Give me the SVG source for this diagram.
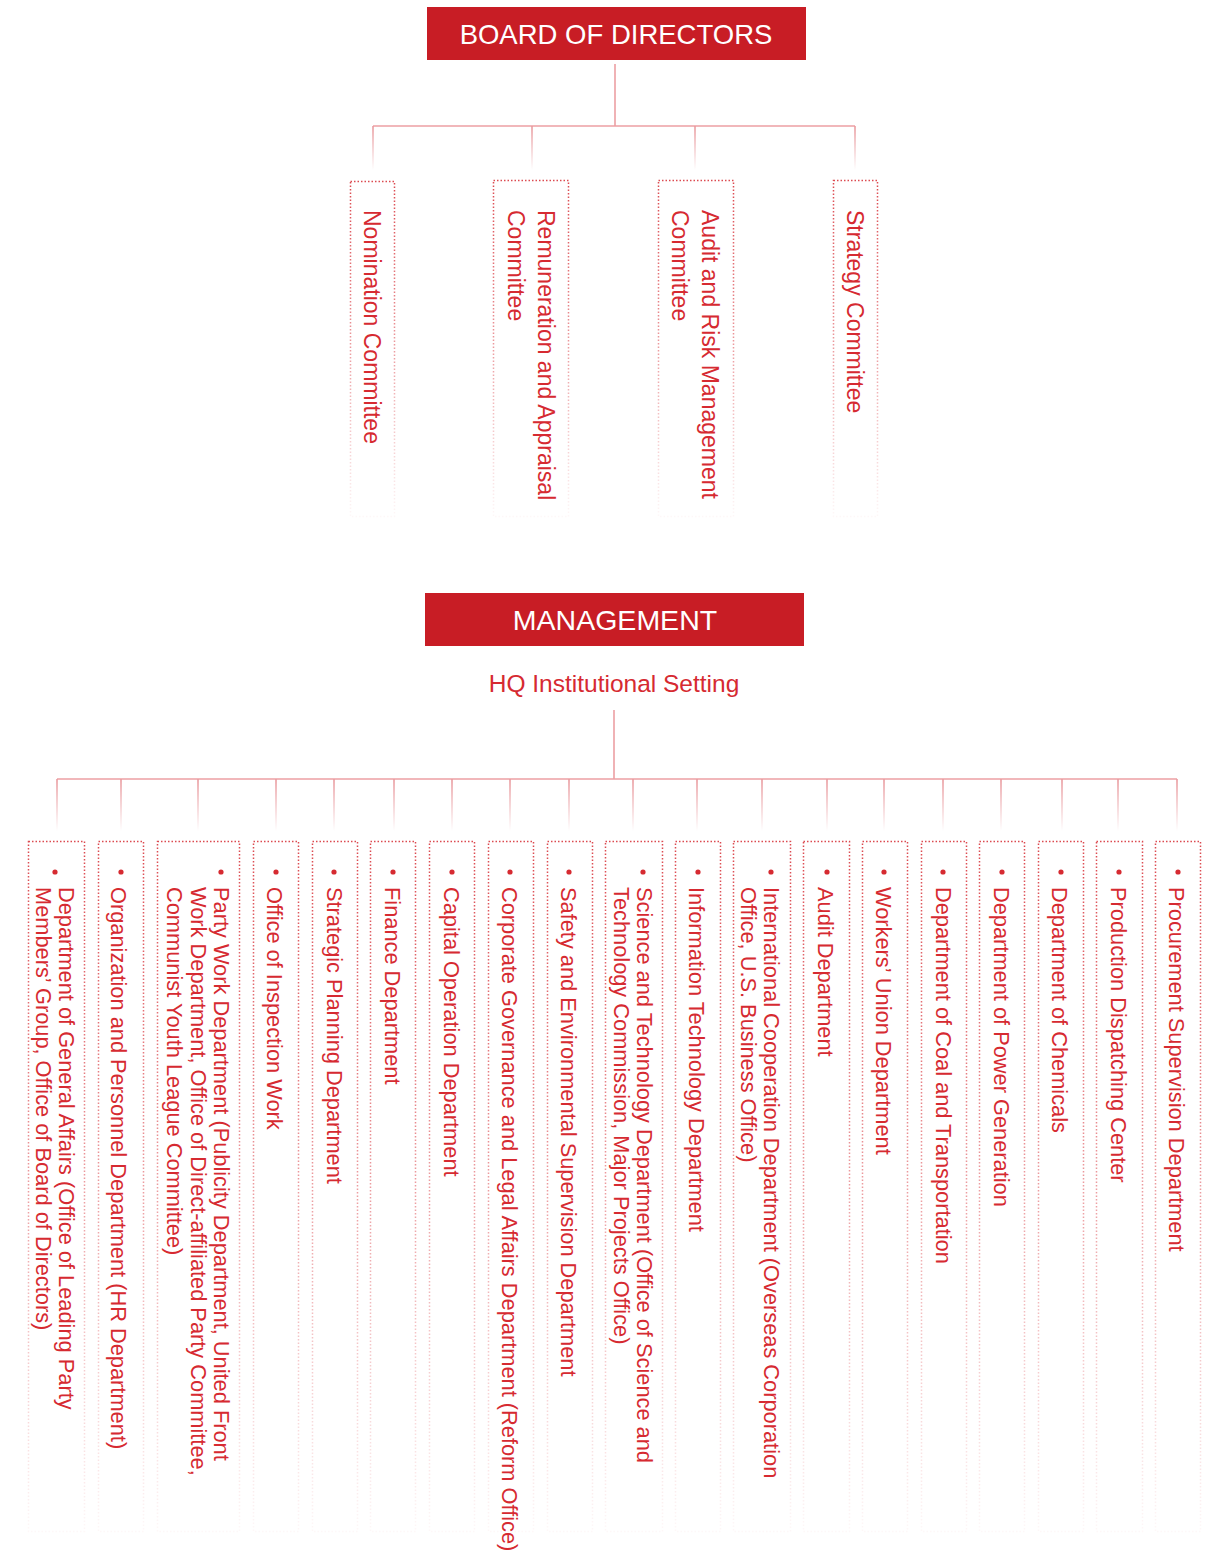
<svg xmlns="http://www.w3.org/2000/svg" width="1209" height="1552" viewBox="0 0 1209 1552">
<defs>
<linearGradient id="fadeBox" x1="0" y1="0" x2="0" y2="1">
<stop offset="0" stop-color="#dc4a50" stop-opacity="1"/>
<stop offset="0.35" stop-color="#dc4a50" stop-opacity="0.7"/>
<stop offset="1" stop-color="#dc4a50" stop-opacity="0.04"/>
</linearGradient>
<linearGradient id="fadeDrop" x1="0" y1="0" x2="0" y2="1">
<stop offset="0" stop-color="#e99a9e" stop-opacity="1"/>
<stop offset="1" stop-color="#e99a9e" stop-opacity="0"/>
</linearGradient>
<style>
.title{fill:#c81d25}
.ttl{font-family:"Liberation Sans",Arial,sans-serif;fill:#ffffff;text-anchor:middle}
.box{fill:none;stroke:url(#fadeBox);stroke-width:1.5;stroke-dasharray:1.5 2}
.conn{stroke:#ec9fa3;stroke-width:1.6;fill:none}
.drop{fill:url(#fadeDrop)}
.ct{font-family:"Liberation Sans",Arial,sans-serif;font-size:23px;fill:#d62a31}
.dt{font-family:"Liberation Sans",Arial,sans-serif;font-size:21.8px;fill:#d62a31}
.bul{fill:#d62a31}
.hq{font-family:"Liberation Sans",Arial,sans-serif;font-size:24.5px;fill:#d62a31;text-anchor:middle}
</style>
</defs>

<g id="connectors">
<line class="conn" x1="615" y1="64" x2="615" y2="126"/>
<line class="conn" x1="373" y1="126" x2="855" y2="126"/>
<rect class="drop" x="372.2" y="126" width="1.6" height="44"/>
<rect class="drop" x="531.2" y="126" width="1.6" height="44"/>
<rect class="drop" x="694.2" y="126" width="1.6" height="44"/>
<rect class="drop" x="854.2" y="126" width="1.6" height="44"/>
<line class="conn" x1="614" y1="710" x2="614" y2="779"/>
<line class="conn" x1="57" y1="779" x2="1177" y2="779"/>
<rect class="drop" x="56.2" y="779" width="1.6" height="52"/>
<rect class="drop" x="120.2" y="779" width="1.6" height="52"/>
<rect class="drop" x="197.2" y="779" width="1.6" height="52"/>
<rect class="drop" x="275.2" y="779" width="1.6" height="52"/>
<rect class="drop" x="333.2" y="779" width="1.6" height="52"/>
<rect class="drop" x="393.2" y="779" width="1.6" height="52"/>
<rect class="drop" x="451.2" y="779" width="1.6" height="52"/>
<rect class="drop" x="509.2" y="779" width="1.6" height="52"/>
<rect class="drop" x="568.2" y="779" width="1.6" height="52"/>
<rect class="drop" x="632.2" y="779" width="1.6" height="52"/>
<rect class="drop" x="696.2" y="779" width="1.6" height="52"/>
<rect class="drop" x="761.2" y="779" width="1.6" height="52"/>
<rect class="drop" x="826.2" y="779" width="1.6" height="52"/>
<rect class="drop" x="883.2" y="779" width="1.6" height="52"/>
<rect class="drop" x="942.2" y="779" width="1.6" height="52"/>
<rect class="drop" x="1000.2" y="779" width="1.6" height="52"/>
<rect class="drop" x="1061.2" y="779" width="1.6" height="52"/>
<rect class="drop" x="1117.2" y="779" width="1.6" height="52"/>
<rect class="drop" x="1176.2" y="779" width="1.6" height="52"/>
</g>

<g id="board">
<rect class="title" x="427" y="7" width="379" height="53"/>
<text class="ttl" x="616" y="44" font-size="27.5">BOARD OF DIRECTORS</text>
</g>

<g id="nomination">
<rect class="box" x="350.5" y="181.5" width="44" height="335"/>
<text class="ct" transform="translate(364,210) rotate(90)">Nomination Committee</text>
</g>
<g id="remuneration">
<rect class="box" x="493.5" y="180.5" width="75" height="336"/>
<text class="ct" transform="translate(538,210) rotate(90)"><tspan x="0" y="0">Remuneration and Appraisal</tspan><tspan x="0" dy="30">Committee</tspan></text>
</g>
<g id="audit-risk">
<rect class="box" x="658.5" y="180.5" width="75" height="336"/>
<text class="ct" transform="translate(702,210) rotate(90)"><tspan x="0" y="0">Audit and Risk Management</tspan><tspan x="0" dy="30">Committee</tspan></text>
</g>
<g id="strategy">
<rect class="box" x="833.5" y="180.5" width="44" height="336"/>
<text class="ct" transform="translate(847,210) rotate(90)">Strategy Committee</text>
</g>

<g id="management">
<rect class="title" x="425" y="593" width="379" height="53"/>
<text class="ttl" x="615" y="630" font-size="28.5">MANAGEMENT</text>
</g>
<g id="hq">
<text class="hq" x="614" y="692">HQ Institutional Setting</text>
</g>

<g id="d01">
<rect class="box" x="28.5" y="841.5" width="56" height="690"/>
<circle class="bul" cx="55" cy="872" r="2.6"/>
<text class="dt" transform="translate(59,887) rotate(90)"><tspan x="0" y="0">Department of General Affairs (Office of Leading Party</tspan><tspan x="0" dy="23">Members’ Group, Office of Board of Directors)</tspan></text>
</g>
<g id="d02">
<rect class="box" x="98.5" y="841.5" width="45" height="690"/>
<circle class="bul" cx="121" cy="872" r="2.6"/>
<text class="dt" transform="translate(111,887) rotate(90)">Organization and Personnel Department (HR Department)</text>
</g>
<g id="d03">
<rect class="box" x="157.5" y="841.5" width="82" height="690"/>
<circle class="bul" cx="221" cy="872" r="2.6"/>
<text class="dt" transform="translate(214,887) rotate(90)"><tspan x="0" y="0">Party Work Department (Publicity Department, United Front</tspan><tspan x="0" dy="23.5">Work Department, Office of Direct-affiliated Party Committee,</tspan><tspan x="0" dy="23.5">Communist Youth League Committee)</tspan></text>
</g>
<g id="d04">
<rect class="box" x="253.5" y="841.5" width="45" height="690"/>
<circle class="bul" cx="276" cy="872" r="2.6"/>
<text class="dt" transform="translate(267,887) rotate(90)">Office of Inspection Work</text>
</g>
<g id="d05">
<rect class="box" x="312.5" y="841.5" width="45" height="690"/>
<circle class="bul" cx="334" cy="872" r="2.6"/>
<text class="dt" transform="translate(327,887) rotate(90)">Strategic Planning Department</text>
</g>
<g id="d06">
<rect class="box" x="370.5" y="841.5" width="45" height="690"/>
<circle class="bul" cx="393" cy="872" r="2.6"/>
<text class="dt" transform="translate(385,887) rotate(90)">Finance Department</text>
</g>
<g id="d07">
<rect class="box" x="429.5" y="841.5" width="45" height="690"/>
<circle class="bul" cx="452" cy="872" r="2.6"/>
<text class="dt" transform="translate(444,887) rotate(90)">Capital Operation Department</text>
</g>
<g id="d08">
<rect class="box" x="488.5" y="841.5" width="45" height="690"/>
<circle class="bul" cx="510" cy="872" r="2.6"/>
<text class="dt" transform="translate(502,887) rotate(90)">Corporate Governance and Legal Affairs Department (Reform Office)</text>
</g>
<g id="d09">
<rect class="box" x="547.5" y="841.5" width="45" height="690"/>
<circle class="bul" cx="569" cy="872" r="2.6"/>
<text class="dt" transform="translate(561,887) rotate(90)">Safety and Environmental Supervision Department</text>
</g>
<g id="d10">
<rect class="box" x="605.5" y="841.5" width="57" height="690"/>
<circle class="bul" cx="643" cy="872" r="2.6"/>
<text class="dt" transform="translate(637,887) rotate(90)"><tspan x="0" y="0">Science and Technology Department (Office of Science and</tspan><tspan x="0" dy="23">Technology Commission, Major Projects Office)</tspan></text>
</g>
<g id="d11">
<rect class="box" x="675.5" y="841.5" width="45" height="690"/>
<circle class="bul" cx="698" cy="872" r="2.6"/>
<text class="dt" transform="translate(689,887) rotate(90)">Information Technology Department</text>
</g>
<g id="d12">
<rect class="box" x="733.5" y="841.5" width="57" height="690"/>
<circle class="bul" cx="771" cy="872" r="2.6"/>
<text class="dt" transform="translate(764,887) rotate(90)"><tspan x="0" y="0">International Cooperation Department (Overseas Corporation</tspan><tspan x="0" dy="23">Office, U.S. Business Office)</tspan></text>
</g>
<g id="d13">
<rect class="box" x="803.5" y="841.5" width="46" height="690"/>
<circle class="bul" cx="827" cy="872" r="2.6"/>
<text class="dt" transform="translate(818,887) rotate(90)">Audit Department</text>
</g>
<g id="d14">
<rect class="box" x="862.5" y="841.5" width="45" height="690"/>
<circle class="bul" cx="884" cy="872" r="2.6"/>
<text class="dt" transform="translate(876,887) rotate(90)">Workers’ Union Department</text>
</g>
<g id="d15">
<rect class="box" x="921.5" y="841.5" width="45" height="690"/>
<circle class="bul" cx="943" cy="872" r="2.6"/>
<text class="dt" transform="translate(936,887) rotate(90)">Department of Coal and Transportation</text>
</g>
<g id="d16">
<rect class="box" x="979.5" y="841.5" width="45" height="690"/>
<circle class="bul" cx="1002" cy="872" r="2.6"/>
<text class="dt" transform="translate(994,887) rotate(90)">Department of Power Generation</text>
</g>
<g id="d17">
<rect class="box" x="1038.5" y="841.5" width="45" height="690"/>
<circle class="bul" cx="1061" cy="872" r="2.6"/>
<text class="dt" transform="translate(1052,887) rotate(90)">Department of Chemicals</text>
</g>
<g id="d18">
<rect class="box" x="1096.5" y="841.5" width="46" height="690"/>
<circle class="bul" cx="1119" cy="872" r="2.6"/>
<text class="dt" transform="translate(1111,887) rotate(90)">Production Dispatching Center</text>
</g>
<g id="d19">
<rect class="box" x="1155.5" y="841.5" width="45" height="690"/>
<circle class="bul" cx="1178" cy="872" r="2.6"/>
<text class="dt" transform="translate(1169,887) rotate(90)">Procurement Supervision Department</text>
</g>
</svg>
